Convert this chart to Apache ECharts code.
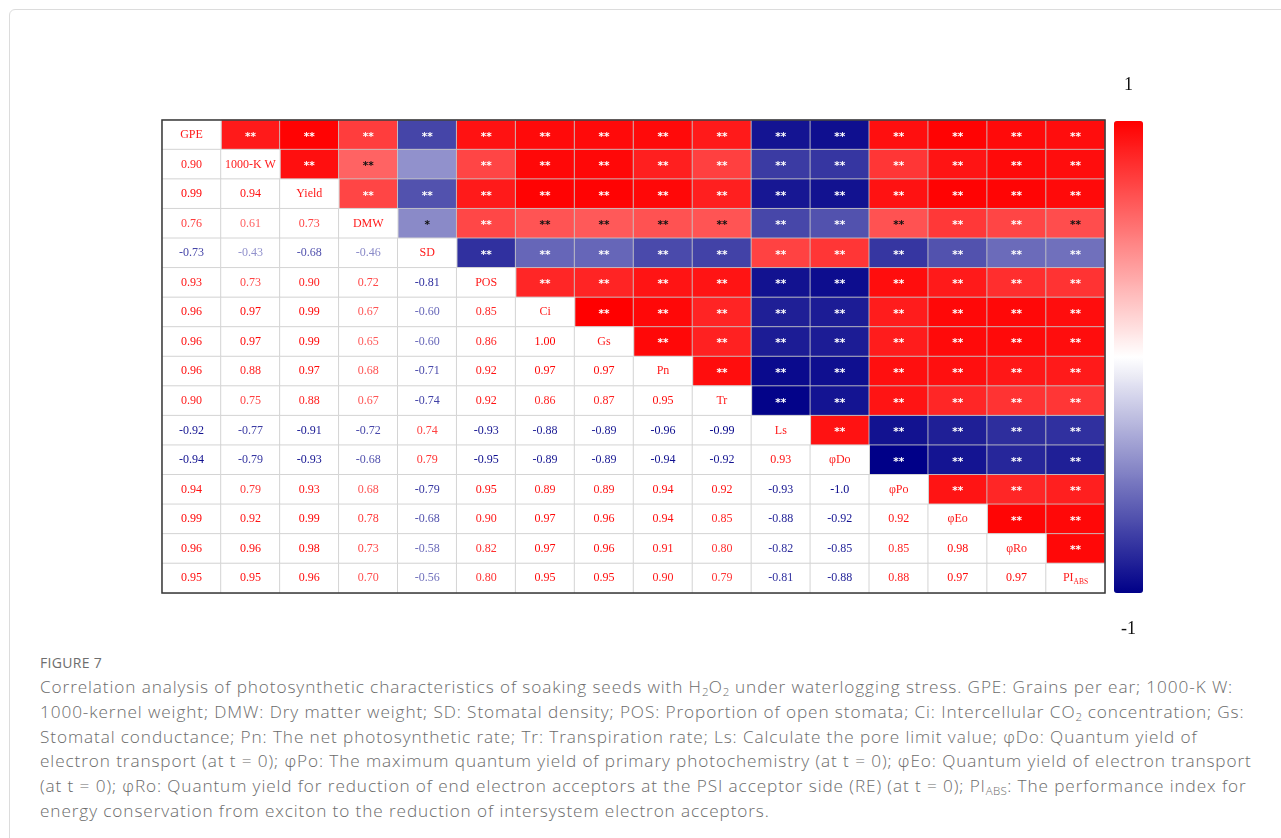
<!DOCTYPE html>
<html>
<head>
<meta charset="utf-8">
<script src="https://cdn.jsdelivr.net/npm/echarts@6/dist/echarts.min.js"></script>
<style>
  html, body { margin: 0; padding: 0; background: #fff; width: 1281px; height: 838px; overflow: hidden; }
  .card { position: absolute; left: 9px; top: 9px; width: 1400px; height: 1000px;
          border: 1px solid #dcdcdc; border-radius: 6px; }
  #chart { position: absolute; left: 0; top: 0; width: 1281px; height: 645px; }
  .caption { position: absolute; left: 40px; top: 650px; font-family: "Open Sans", sans-serif;
             color: #6b6b6b; font-weight: 300; }
  .fig { font-size: 14px; font-weight: 400; letter-spacing: 0.3px; line-height: 25px; color: #6e6e6e; }
  .line { font-size: 17.2px; letter-spacing: 0.9px; line-height: 24.8px; white-space: nowrap; }
  sub { font-size: 11.5px; letter-spacing: 0.3px; line-height: 0; vertical-align: -3px; }
</style>
</head>
<body>
<div class="card"></div>
<div id="chart"></div>
<div class="caption">
  <div class="fig">FIGURE 7</div>
  <div class="line">Correlation analysis of photosynthetic characteristics of soaking seeds with H<sub>2</sub>O<sub>2</sub> under waterlogging stress. GPE: Grains per ear; 1000-K W:</div>
  <div class="line">1000-kernel weight; DMW: Dry matter weight; SD: Stomatal density; POS: Proportion of open stomata; Ci: Intercellular CO<sub>2</sub> concentration; Gs:</div>
  <div class="line">Stomatal conductance; Pn: The net photosynthetic rate; Tr: Transpiration rate; Ls: Calculate the pore limit value; φDo: Quantum yield of</div>
  <div class="line">electron transport (at t = 0); φPo: The maximum quantum yield of primary photochemistry (at t = 0); φEo: Quantum yield of electron transport</div>
  <div class="line">(at t = 0); φRo: Quantum yield for reduction of end electron acceptors at the PSI acceptor side (RE) (at t = 0); PI<sub>ABS</sub>: The performance index for</div>
  <div class="line">energy conservation from exciton to the reduction of intersystem electron acceptors.</div>
</div>
<script>
// Trait names, in matrix order
const variables = ['GPE', '1000-K W', 'Yield', 'DMW', 'SD', 'POS', 'Ci', 'Gs', 'Pn', 'Tr',
                   'Ls', 'φDo', 'φPo', 'φEo', 'φRo', 'PI_ABS'];

// Lower triangle of the correlation matrix: row k holds r(variables[k], variables[0..k-1])
const corrRows = [
  [],
  ['0.90'],
  ['0.99', '0.94'],
  ['0.76', '0.61', '0.73'],
  ['-0.73', '-0.43', '-0.68', '-0.46'],
  ['0.93', '0.73', '0.90', '0.72', '-0.81'],
  ['0.96', '0.97', '0.99', '0.67', '-0.60', '0.85'],
  ['0.96', '0.97', '0.99', '0.65', '-0.60', '0.86', '1.00'],
  ['0.96', '0.88', '0.97', '0.68', '-0.71', '0.92', '0.97', '0.97'],
  ['0.90', '0.75', '0.88', '0.67', '-0.74', '0.92', '0.86', '0.87', '0.95'],
  ['-0.92', '-0.77', '-0.91', '-0.72', '0.74', '-0.93', '-0.88', '-0.89', '-0.96', '-0.99'],
  ['-0.94', '-0.79', '-0.93', '-0.68', '0.79', '-0.95', '-0.89', '-0.89', '-0.94', '-0.92', '0.93'],
  ['0.94', '0.79', '0.93', '0.68', '-0.79', '0.95', '0.89', '0.89', '0.94', '0.92', '-0.93', '-1.0'],
  ['0.99', '0.92', '0.99', '0.78', '-0.68', '0.90', '0.97', '0.96', '0.94', '0.85', '-0.88', '-0.92', '0.92'],
  ['0.96', '0.96', '0.98', '0.73', '-0.58', '0.82', '0.97', '0.96', '0.91', '0.80', '-0.82', '-0.85', '0.85', '0.98'],
  ['0.95', '0.95', '0.96', '0.70', '-0.56', '0.80', '0.95', '0.95', '0.90', '0.79', '-0.81', '-0.88', '0.88', '0.97', '0.97']
];

// Significance marks, same shape as corrRows ('' = not significant)
const sigRows = corrRows.map(row => row.map(() => '**'));
sigRows[4][1] = '';   // SD vs 1000-K W
sigRows[4][3] = '*';  // SD vs DMW

// Colour ramp for r = -1 .. 0 .. 1
const rampColors = ['#000088', '#ffffff', '#ff0000'];

// Layout of the matrix block (pixels)
const G = { left: 162, top: 120, width: 943, height: 473 };

function hexToRgb(h) {
  return [parseInt(h.slice(1, 3), 16), parseInt(h.slice(3, 5), 16), parseInt(h.slice(5, 7), 16)];
}
function rampRgb(v) {
  const lo = v < 0 ? hexToRgb(rampColors[0]) : hexToRgb(rampColors[1]);
  const hi = v < 0 ? hexToRgb(rampColors[1]) : hexToRgb(rampColors[2]);
  const t = v < 0 ? v + 1 : v;
  return lo.map((a, i) => Math.round(a + (hi[i] - a) * t));
}
function rgbStr(c) { return 'rgb(' + c.join(',') + ')'; }
function luminance(c) { return 0.299 * c[0] + 0.587 * c[1] + 0.114 * c[2]; }

const n = variables.length;
const upperData = [];
const lowerData = [];

function diagLabel(name) {
  if (name === 'PI_ABS') return '{m|PI}{s|ABS}';
  return '{m|' + name + '}';
}

for (let r = 0; r < n; r++) {
  for (let c = 0; c < n; c++) {
    if (r > c) {
      const txt = corrRows[r][c];
      const v = parseFloat(txt);
      lowerData.push({
        value: [c, r, v],
        label: { formatter: txt, color: rgbStr(rampRgb(v)) }
      });
    } else if (r === c) {
      lowerData.push({
        value: [c, r, 1],
        label: { formatter: diagLabel(variables[r]) }
      });
    } else {
      const txt = corrRows[c][r];
      const v = parseFloat(txt);
      const mark = sigRows[c][r];
      const starColor = luminance(rampRgb(v)) > 128 ? '#111' : '#fff';
      upperData.push({
        value: [c, r, v],
        label: { formatter: mark, color: starColor }
      });
    }
  }
}

const chart = echarts.init(document.getElementById('chart'), null, { renderer: 'canvas' });

chart.setOption({
  backgroundColor: 'transparent',
  animation: false,
  grid: { left: G.left, top: G.top, width: G.width, height: G.height },
  xAxis: { type: 'category', data: variables, show: false },
  yAxis: { type: 'category', data: variables, show: false, inverse: true },
  visualMap: {
    type: 'continuous',
    min: -1, max: 1,
    seriesIndex: 0,
    calculable: false,
    orient: 'vertical',
    left: 1114, top: 76,
    padding: 0,
    itemWidth: 29, itemHeight: 472,
    text: ['1', '-1'],
    textGap: 27,
    textStyle: { color: '#111', fontFamily: 'Liberation Serif', fontSize: 18 },
    inRange: { color: rampColors }
  },
  series: [
    {
      type: 'heatmap',
      data: upperData,
      itemStyle: { borderColor: 'rgba(200,200,200,0.85)', borderWidth: 1 },
      emphasis: { disabled: true },
      label: { show: true, fontFamily: 'DejaVu Sans', fontSize: 10.5, fontWeight: 'bold', offset: [0, 2] }
    },
    {
      type: 'heatmap',
      data: lowerData,
      itemStyle: { color: '#ffffff', borderColor: '#d4d4d4', borderWidth: 1 },
      emphasis: { disabled: true },
      label: {
        show: true,
        fontFamily: 'Liberation Serif',
        fontSize: 12,
        color: '#ff1a1a',
        rich: {
          m: { fontFamily: 'Liberation Serif', fontSize: 12, color: '#ff1a1a' },
          s: { fontFamily: 'Liberation Serif', fontSize: 7.5, color: '#ff1a1a', padding: [7, 0, 0, 0] }
        }
      }
    }
  ],
  graphic: [
    {
      type: 'rect',
      z: 100,
      silent: true,
      shape: { x: G.left, y: G.top, width: G.width, height: G.height },
      style: { fill: 'none', stroke: '#3a3a3a', lineWidth: 1.5 }
    }
  ]
});
</script>
</body>
</html>
